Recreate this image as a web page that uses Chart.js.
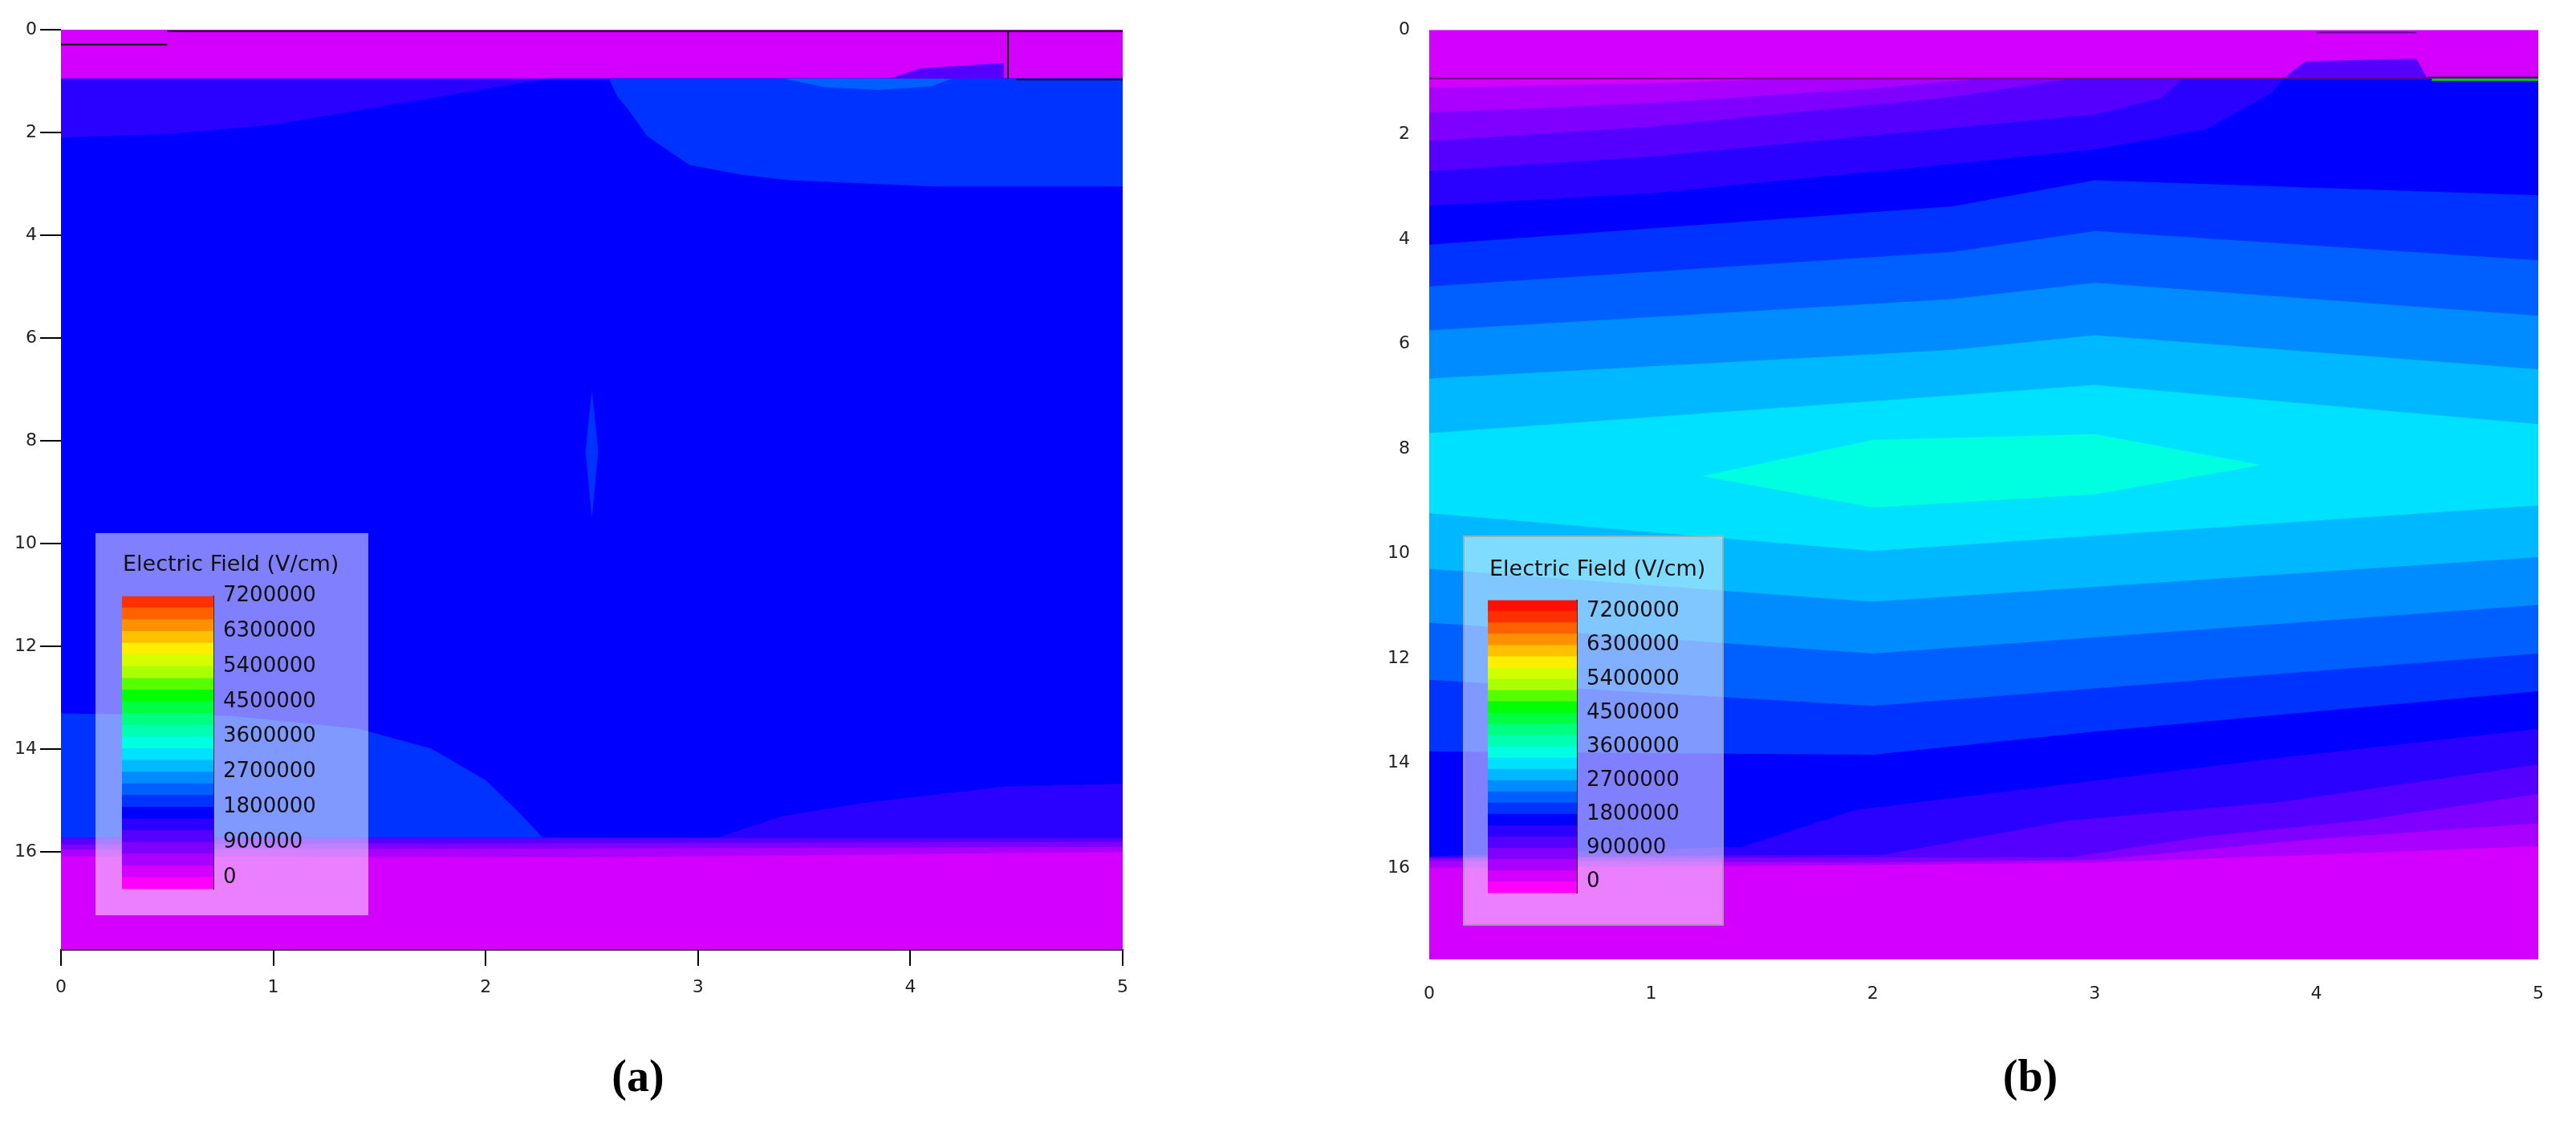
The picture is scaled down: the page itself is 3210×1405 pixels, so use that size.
<!DOCTYPE html>
<html>
<head>
<meta charset="utf-8">
<script src="https://cdn.jsdelivr.net/npm/chart.js@4.4.1/dist/chart.umd.min.js"></script>
<style>
  body { margin: 0; background: #fff; width: 3210px; height: 1405px; position: relative; overflow: hidden; font-family: "DejaVu Sans", sans-serif; }
  canvas { position: absolute; }
  .box { position: absolute; background: rgba(255,255,255,0.5); }
  .ttl { position: absolute; font: 27px "DejaVu Sans", sans-serif; color: #111; white-space: nowrap; transform: translateY(-50%); }
  .cap { position: absolute; font: bold 56px "Liberation Serif", "DejaVu Serif", serif; color: #000; transform: translate(-50%, -50%); }
</style>
</head>
<body>
<canvas id="chartA" style="left:0;top:0"></canvas>
<canvas id="chartB" style="left:1700px;top:0"></canvas>
<div class="box" style="left:119px;top:664px;width:340px;height:476px"></div>
<div class="box" style="left:1823px;top:667px;width:325px;height:486px;border:2px solid rgba(150,150,150,0.6);box-sizing:border-box"></div>
<div class="ttl" style="left:153px;top:701px">Electric Field (V/cm)</div>
<div class="ttl" style="left:1856px;top:707px">Electric Field (V/cm)</div>
<canvas id="barA" style="left:140px;top:715px"></canvas>
<canvas id="barB" style="left:1840px;top:720px"></canvas>
<div class="cap" style="left:795px;top:1340px">(a)</div>
<div class="cap" style="left:2530px;top:1340px">(b)</div>
<script>
// --- colour levels (V/cm), one colour per band ---
const levelsA = [-300000, 0, 300000, 600000, 900000, 1200000, 1500000, 1800000, 2100000, 2400000, 2700000,
  3000000, 3300000, 3600000, 3900000, 4200000, 4500000, 4800000, 5100000, 5400000, 5700000,
  6000000, 6300000, 6600000, 6900000, 7200000];
const levelsB = levelsA.concat([7500000]);
const bandColors = ['#ff00ff', '#d400ff', '#aa00ff', '#8000ff', '#5500ff', '#2a00ff', '#0000ff', '#0033ff',
  '#0060ff', '#008cff', '#00b8ff', '#00e1ff', '#00ffe0', '#00ffb0', '#00ff80', '#00ff40', '#00ff00',
  '#55ff00', '#aaff00', '#d4ff00', '#ffee00', '#ffc000', '#ff9000', '#ff6000', '#ff3000', '#ff1000'];
const legendTicks = [0, 900000, 1800000, 2700000, 3600000, 4500000, 5400000, 6300000, 7200000];

// --- axes ---
const xTicks = [0, 1, 2, 3, 4, 5];
const yTicks = [0, 2, 4, 6, 8, 10, 12, 14, 16];
const depthA = 17.9, depthB = 17.75;

// --- panel (a) field regions: [kind, colour index, x values, y values] ---
const fieldA = [
  ['band', 1, [0, 5], [0, 0]],
  ['band', 5, [0, 5], [0.95, 0.95]],
  ['band', 6, [0, 0.5, 1, 1.5, 2, 2.3, 5], [2.1, 2.03, 1.85, 1.5, 1.15, 0.95, 0.95]],
  ['patch', 7, [2.58, 2.62, 2.68, 2.76, 2.96, 3.2, 3.43, 4.11, 5, 5], [0.95, 1.3, 1.6, 2.07, 2.63, 2.82, 2.93, 3.05, 3.05, 0.95]],
  ['patch', 8, [3.4, 3.6, 3.85, 4.1, 4.2], [0.95, 1.12, 1.17, 1.1, 0.95]],
  ['patch', 4, [3.9, 4.05, 4.44, 4.44], [0.95, 0.75, 0.65, 0.95]],
  ['patch', 7, [2.5, 2.53, 2.5, 2.47], [7.0, 8.2, 9.5, 8.2]],
  ['patch', 7, [0, 0.8, 1.4, 1.74, 2.0, 2.15, 2.27, 0], [13.3, 13.35, 13.6, 13.98, 14.6, 15.2, 15.72, 15.72]],
  ['patch', 5, [3.09, 3.4, 3.77, 4.45, 5, 5], [15.72, 15.3, 15.05, 14.72, 14.67, 15.72]],
  ['band', 4, [0, 5], [15.72, 15.72]],
  ['band', 3, [0, 5], [15.85, 15.8]],
  ['band', 2, [0, 5], [15.95, 15.9]],
  ['band', 1, [0, 2.5, 5], [16.08, 16.1, 16.0]]
];
const edgesA = [
  ['#000', 2, [0.5, 5], [0.03, 0.03]],
  ['#000', 2, [0, 0.5], [0.29, 0.29]],
  ['#000', 2, [4.46, 4.46], [0.03, 0.95]],
  ['#000', 2, [4.5, 5], [0.97, 0.97]]
];

// --- panel (b) field regions ---
const fieldB = [
  ['band', 1, [0, 5], [0, 0]],
  ['band', 2, [0, 1, 1.6, 5], [1.11, 1.02, 0.93, 0.93]],
  ['band', 3, [0, 1, 2, 2.5, 5], [1.58, 1.40, 1.12, 0.93, 0.93]],
  ['band', 4, [0, 1, 2.36, 2.9, 5], [2.12, 1.85, 1.28, 0.93, 0.93]],
  ['band', 5, [0, 1, 2.36, 3.0, 3.3, 3.4, 5], [2.70, 2.42, 1.87, 1.62, 1.3, 0.93, 0.93]],
  ['band', 6, [0, 1, 2.36, 3, 3.5, 3.8, 3.85, 5], [3.36, 3.12, 2.56, 2.28, 1.9, 1.2, 0.93, 0.93]],
  ['band', 7, [0, 2.36, 3, 5], [4.10, 3.37, 2.87, 3.16]],
  ['band', 8, [0, 2.36, 3, 5], [4.90, 4.24, 3.84, 4.40]],
  ['band', 9, [0, 2.36, 3, 5], [5.74, 5.14, 4.83, 5.46]],
  ['band', 10, [0, 2.36, 3, 5], [6.66, 6.11, 5.83, 6.48]],
  ['band', 11, [0, 2.36, 3, 5], [7.70, 6.98, 6.78, 7.53]],
  ['band', 10, [0, 2, 5], [9.23, 9.95, 9.08]],
  ['band', 9, [0, 2, 5], [10.29, 10.92, 10.07]],
  ['band', 8, [0, 2, 5], [11.32, 11.91, 10.98]],
  ['band', 7, [0, 2, 5], [12.41, 12.91, 11.91]],
  ['band', 6, [0, 2, 3, 5], [13.78, 13.84, 13.4, 12.63]],
  ['band', 5, [0, 1.41, 1.92, 2.88, 3.84, 5], [15.78, 15.6, 14.9, 14.4, 13.9, 13.35]],
  ['band', 4, [0, 2.05, 2.88, 3.84, 5], [15.8, 15.75, 15.1, 14.74, 14.03]],
  ['band', 3, [0, 2.9, 3.5, 4.2, 5], [15.82, 15.8, 15.4, 15.1, 14.59]],
  ['band', 2, [0, 2, 3, 4, 5], [15.87, 15.9, 15.85, 15.45, 15.15]],
  ['band', 1, [0, 2, 3, 4, 5], [16.0, 15.95, 15.9, 15.75, 15.59]],
  ['patch', 12, [1.23, 2, 3, 3.75, 3, 2], [8.52, 7.83, 7.72, 8.31, 8.87, 9.12]],
  ['patch', 4, [3.85, 3.95, 4.45, 4.5], [0.93, 0.6, 0.55, 0.93]]
];
const edgesB = [
  ['#6a0080', 2, [0, 4.5], [0.93, 0.93]],
  ['#3a0040', 2, [4.5, 5], [0.91, 0.91]],
  ['#00d000', 3, [4.52, 5], [0.95, 0.95]],
  ['#7000a0', 2, [4.0, 4.45], [0.05, 0.05]]
];

function toPoints(xs, ys) {
  return xs.map((x, i) => ({ x: x, y: ys[i] }));
}

function buildDatasets(field, edges, depth) {
  const sets = [];
  field.forEach(([kind, ci, xs, ys]) => {
    let pts = toPoints(xs, ys);
    if (kind === 'band') {
      pts = pts.concat([{ x: 5, y: depth + 1 }, { x: 0, y: depth + 1 }]);
    }
    pts.push(pts[0]);
    sets.push({ data: pts, backgroundColor: bandColors[ci], borderWidth: 0, fill: 'shape', pointRadius: 0, tension: 0 });
  });
  edges.forEach(([col, w, xs, ys]) => {
    sets.push({ data: toPoints(xs, ys), borderColor: col, borderWidth: w, fill: false, pointRadius: 0 });
  });
  // later entries drawn on top
  sets.forEach((s, i) => { s.order = -i; });
  return sets;
}

function fieldChart(id, w, h, field, edges, depth, o) {
  const cv = document.getElementById(id);
  cv.width = w; cv.height = h;
  cv.style.width = w + 'px'; cv.style.height = h + 'px';
  const tickFont = { family: 'DejaVu Sans', size: 22 };
  return new Chart(cv, {
    type: 'line',
    data: { datasets: buildDatasets(field, edges, depth) },
    options: {
      responsive: false, animation: false, devicePixelRatio: 1,
      layout: { padding: { left: 0, top: o.top, right: o.right, bottom: 0 } },
      plugins: { legend: { display: false }, tooltip: { enabled: false } },
      scales: {
        x: {
          type: 'linear', min: 0, max: 5,
          afterBuildTicks: s => { s.ticks = xTicks.map(v => ({ value: v })); },
          afterFit: s => { s.height = o.xh; },
          border: { display: o.xLine, color: '#000', width: 2 },
          grid: { drawOnChartArea: false, drawTicks: o.xLine, tickLength: 20, color: '#000', lineWidth: 2 },
          ticks: { color: '#222', font: tickFont, padding: o.xLine ? 14 : 30, maxRotation: 0 }
        },
        y: {
          type: 'linear', min: 0, max: depth, reverse: true,
          afterBuildTicks: s => { s.ticks = yTicks.map(v => ({ value: v })); },
          afterFit: s => { s.width = o.yw; },
          border: { display: false },
          grid: { drawOnChartArea: false, drawTicks: o.yTick, tickLength: 26, color: '#000', lineWidth: 2 },
          ticks: { color: '#222', font: tickFont, padding: o.yTick ? 4 : 24 }
        }
      }
    }
  });
}

function colorBar(id, w, h, levels, pad, axisW) {
  const cv = document.getElementById(id);
  cv.width = w; cv.height = h;
  cv.style.width = w + 'px'; cv.style.height = h + 'px';
  const sets = [];
  for (let i = 0; i < levels.length - 1; i++) {
    sets.push({ data: [[levels[i], levels[i + 1]]], backgroundColor: bandColors[i], borderWidth: 0,
      barPercentage: 1, categoryPercentage: 1, grouped: false });
  }
  return new Chart(cv, {
    type: 'bar',
    data: { labels: [''], datasets: sets },
    options: {
      responsive: false, animation: false, devicePixelRatio: 1,
      layout: { padding: pad },
      plugins: { legend: { display: false }, tooltip: { enabled: false } },
      scales: {
        x: { display: false },
        y: {
          position: 'right', min: levels[0], max: levels[levels.length - 1],
          afterBuildTicks: s => { s.ticks = legendTicks.map(v => ({ value: v })); },
          afterFit: s => { s.width = axisW; },
          border: { display: true, color: '#333', width: 2 },
          grid: { display: false, drawTicks: false },
          ticks: { color: '#111', font: { family: 'DejaVu Sans', size: 26 }, padding: 12, callback: v => String(v) }
        }
      }
    }
  });
}

fieldChart('chartA', 1420, 1260, fieldA, edgesA, depthA, { top: 37, right: 18, xh: 77, yw: 76, xLine: true, yTick: true });
fieldChart('chartB', 1500, 1260, fieldB, edgesB, depthB, { top: 30, right: 34, xh: 65, yw: 81, xLine: false, yTick: false });
colorBar('barA', 330, 420, levelsA, { left: 12, top: 14, bottom: 25, right: 0 }, 204);
colorBar('barB', 320, 420, levelsB, { left: 14, top: 13, bottom: 18, right: 0 }, 195);
</script>
</body>
</html>
